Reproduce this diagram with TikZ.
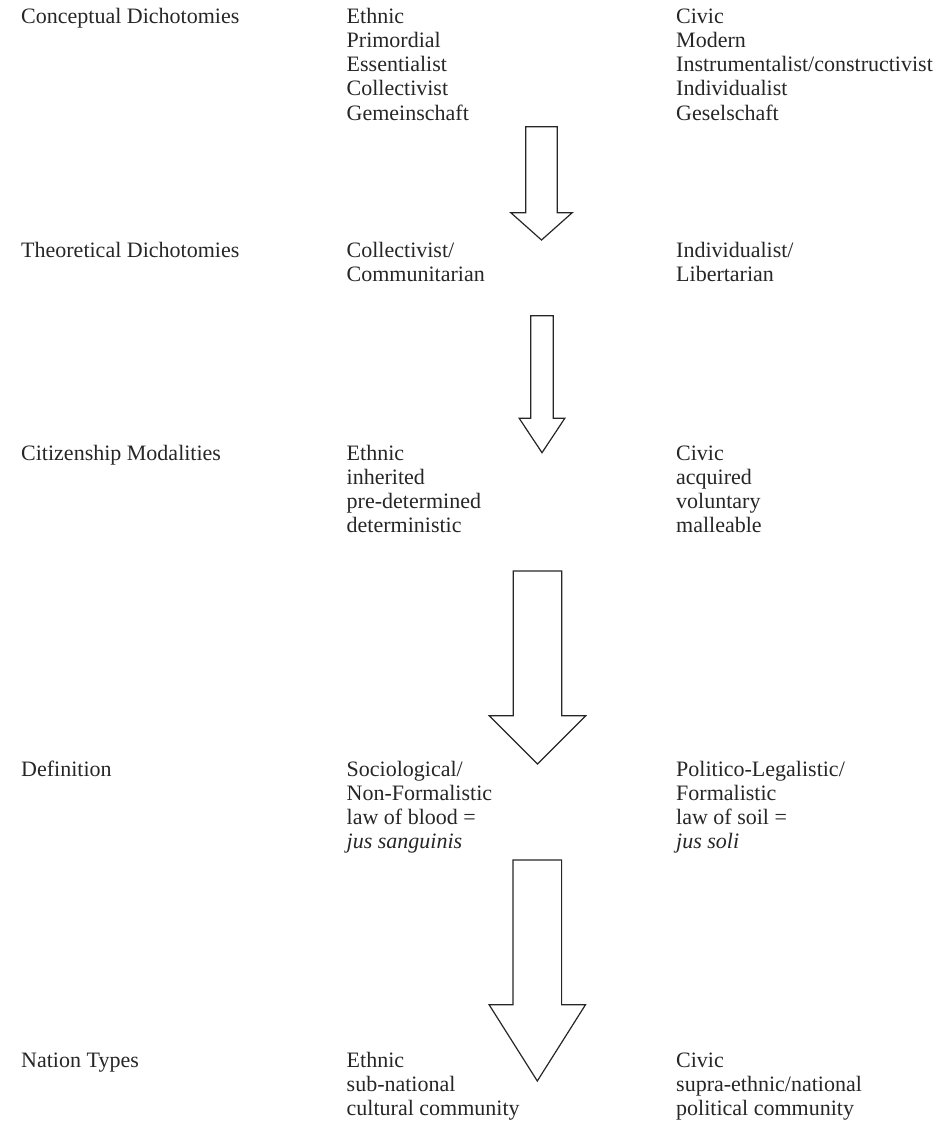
\documentclass[tikz,border=0pt]{standalone}
\usepackage{fontspec}
\setmainfont{Liberation Serif}
\newcommand{\mylines}[1]{\begin{tabular}[t]{@{}l@{}}#1\end{tabular}}
\newcommand{\myBlockArrow}[6]{%
  \draw[blockarrow] ({#1-#5},#2) -- ({#1+#5},#2) -- ({#1+#5},#3) -- ({#1+#6},#3)
    -- (#1,#4) -- ({#1-#6},#3) -- ({#1-#5},#3) -- cycle;}
\begin{document}
\begin{tikzpicture}[x=1pt,y=-1pt,
  lbl/.style={anchor=base west, inner sep=0pt, text=black!85,
    font=\fontsize{22}{24.3}\selectfont},
  blockarrow/.style={draw=black!85, line width=1.2pt, fill=white, line join=miter}]
\useasboundingbox (0,0) rectangle (951,1130);
% Row 1
\node[lbl] (r1a) at (21,23) {Conceptual Dichotomies};
\node[lbl] (r1b) at (346.5,23) {\mylines{Ethnic\\Primordial\\Essentialist\\Collectivist\\Gemeinschaft}};
\node[lbl] (r1c) at (676,23) {\mylines{Civic\\Modern\\Instrumentalist/constructivist\\Individualist\\Geselschaft}};
% Row 2
\node[lbl] (r2a) at (21,257) {Theoretical Dichotomies};
\node[lbl] (r2b) at (346.5,257) {\mylines{Collectivist/\\Communitarian}};
\node[lbl] (r2c) at (676,257) {\mylines{Individualist/\\Libertarian}};
% Row 3
\node[lbl] (r3a) at (21,460) {Citizenship Modalities};
\node[lbl] (r3b) at (346.5,460) {\mylines{Ethnic\\inherited\\pre-determined\\deterministic}};
\node[lbl] (r3c) at (676,460) {\mylines{Civic\\acquired\\voluntary\\malleable}};
% Row 4
\node[lbl] (r4a) at (21,776) {Definition};
\node[lbl] (r4b) at (346.5,776) {\mylines{Sociological/\\Non-Formalistic\\law of blood =\\\textit{jus sanguinis}}};
\node[lbl] (r4c) at (676,776) {\mylines{Politico-Legalistic/\\Formalistic\\law of soil =\\\textit{jus soli}}};
% Row 5
\node[lbl] (r5a) at (21,1067) {Nation Types};
\node[lbl] (r5b) at (346.5,1067) {\mylines{Ethnic\\sub-national\\cultural community}};
\node[lbl] (r5c) at (676,1067) {\mylines{Civic\\supra-ethnic/national\\political community}};
% Block arrows: cx, top, shoulder, tip, shaft half-width, head half-width
\myBlockArrow{541.5}{126.7}{212.7}{240}{15.8}{30.7}
\myBlockArrow{542}{315.7}{418.3}{452.7}{11.3}{22.8}
\myBlockArrow{537.5}{571}{715.7}{764}{24.3}{48.2}
\myBlockArrow{537.3}{860}{1004.7}{1081}{24.3}{48.2}
\end{tikzpicture}
\end{document}
